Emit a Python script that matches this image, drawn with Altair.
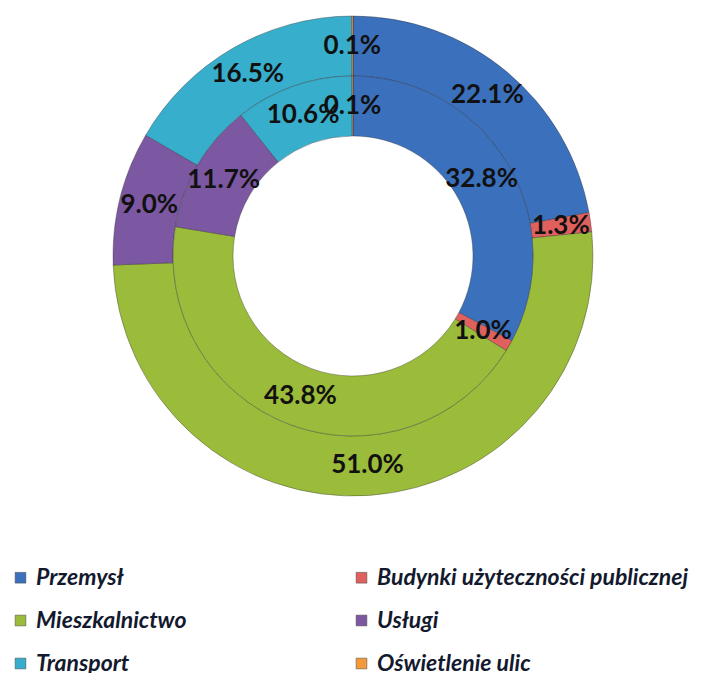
import altair as alt
import pandas as pd

categories = ["Przemysł", "Budynki użyteczności publicznej", "Mieszkalnictwo",
              "Usługi", "Transport", "Oświetlenie ulic"]
outer_values = [22.1, 1.3, 51.0, 9.0, 16.5, 0.1]
inner_values = [32.8, 1.0, 43.8, 11.7, 10.6, 0.1]
colors = ["#3b70bd", "#e0605e", "#9bbb3b", "#7c58a2", "#37aecc", "#f39a3c"]

rows = []
for i, c in enumerate(categories):
    rows.append({"cat": c, "ring": "outer", "value": outer_values[i], "order": i,
                 "label": f"{outer_values[i]:.1f}%"})
    rows.append({"cat": c, "ring": "inner", "value": inner_values[i], "order": i,
                 "label": f"{inner_values[i]:.1f}%"})
df = pd.DataFrame(rows)

color_scale = alt.Scale(domain=categories, range=colors)
CX, CY = 345, 248

def ring(name, r_in, r_out, r_lab):
    base = alt.Chart(df).transform_filter(alt.datum.ring == name).encode(
        theta=alt.Theta("value:Q", stack=True, scale=alt.Scale(domain=[0, 100.0])),
        order=alt.Order("order:Q"),
        x=alt.value(CX), y=alt.value(CY),
    )
    arc = base.mark_arc(innerRadius=r_in, outerRadius=r_out, stroke="#2b2b2b",
                        strokeWidth=0.6, strokeOpacity=0.6).encode(
        color=alt.Color("cat:N", scale=color_scale, sort=categories,
                        legend=alt.Legend(
                            title=None, orient="none", legendX=1, legendY=558,
                            columns=2, direction="horizontal", gridAlign="each",
                            columnPadding=163, rowPadding=19,
                            symbolType="square", symbolSize=115,
                            symbolStrokeWidth=0.5, symbolStrokeColor="#444",
                            labelFont="Lato", labelFontSize=23, labelFontWeight="bold",
                            labelFontStyle="italic", labelColor="#141a2e",
                            labelLimit=400, labelOffset=4)),
    )
    txt = base.mark_text(radius=r_lab, font="Lato", fontSize=26, fontWeight="bold",
                         color="#111111").encode(text="label:N")
    return arc + txt

chart = alt.layer(
    ring("outer", 180, 240, 210),
    ring("inner", 120, 180, 150),
).resolve_scale(theta="independent").properties(
    width=689, height=665, padding=0, autosize=alt.AutoSizeParams(type="none")
).configure(background="white").configure_view(strokeWidth=0, stroke="transparent")

chart.save("out.html", embed_options={"renderer": "svg", "actions": False})
